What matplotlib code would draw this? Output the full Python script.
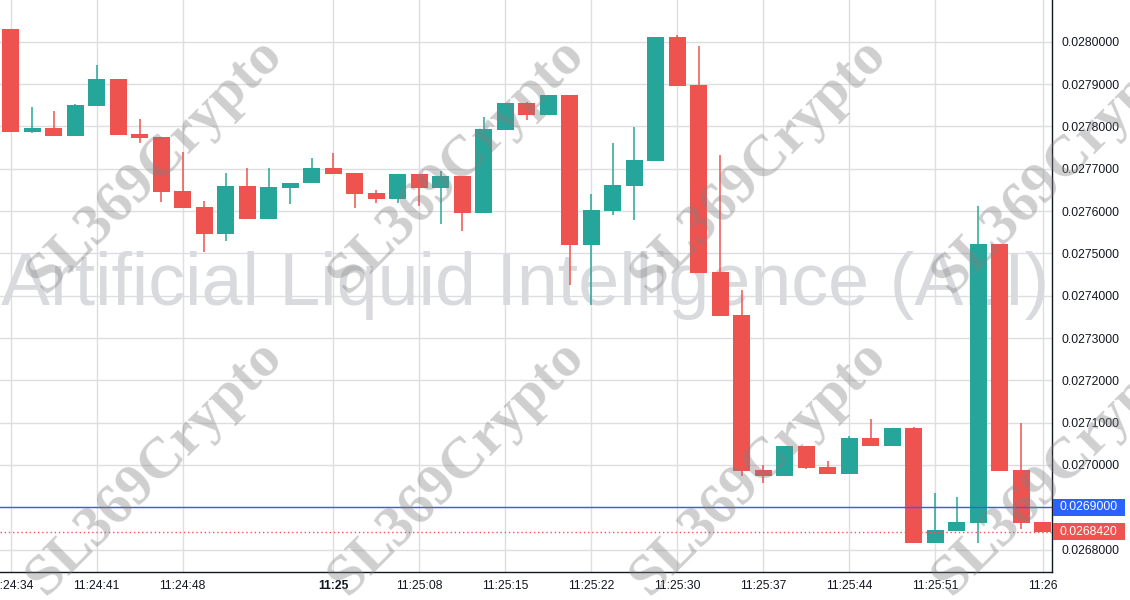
# ---------------------------------------------------------------------------- #
#                                     SETUP                                    #
# ---------------------------------------------------------------------------- #

import matplotlib
matplotlib.use('Agg')
import matplotlib.pyplot as plt
import matplotlib.transforms as mtransforms
from matplotlib.patches import Rectangle

opens = [0.028030, 0.027787, 0.027796, 0.027778, 0.027849, 0.027912, 0.027782,
         0.027775, 0.027647, 0.027609, 0.027546, 0.027659, 0.027582, 0.027655,
         0.027665, 0.027702, 0.027690, 0.027643, 0.027629, 0.027687, 0.027655,
         0.027683, 0.027596, 0.027792, 0.027855, 0.027827, 0.027874, 0.027520,
         0.027600, 0.027659, 0.027718, 0.028011, 0.027898, 0.027456, 0.027354,
         0.026989, 0.026974, 0.027046, 0.026995, 0.026979, 0.027064, 0.027046,
         0.027087, 0.026816, 0.026844, 0.026863, 0.027523, 0.026988, 0.026865]
highs = [0.028030, 0.027846, 0.027836, 0.027853, 0.027945, 0.027912, 0.027817,
         0.027775, 0.027739, 0.027624, 0.027690, 0.027702, 0.027702, 0.027666,
         0.027725, 0.027737, 0.027690, 0.027650, 0.027687, 0.027687, 0.027695,
         0.027683, 0.027822, 0.027855, 0.027858, 0.027874, 0.027874, 0.027640,
         0.027761, 0.027799, 0.028011, 0.028016, 0.027990, 0.027732, 0.027413,
         0.027000, 0.027046, 0.027046, 0.027009, 0.027069, 0.027109, 0.027087,
         0.027089, 0.026934, 0.026925, 0.027612, 0.027523, 0.027099, 0.026865]
lows = [0.027787, 0.027785, 0.027778, 0.027778, 0.027849, 0.027780, 0.027761,
        0.027622, 0.027608, 0.027502, 0.027530, 0.027582, 0.027582, 0.027617,
        0.027665, 0.027688, 0.027608, 0.027620, 0.027620, 0.027613, 0.027570,
        0.027553, 0.027596, 0.027792, 0.027816, 0.027827, 0.027425, 0.027378,
        0.027591, 0.027579, 0.027718, 0.027895, 0.027454, 0.027353, 0.026974,
        0.026957, 0.026974, 0.026991, 0.026979, 0.026979, 0.027046, 0.027046,
        0.026816, 0.026816, 0.026844, 0.026816, 0.026986, 0.026849, 0.026842]
closes = [0.027787, 0.027796, 0.027778, 0.027850, 0.027912, 0.027780, 0.027773,
          0.027646, 0.027608, 0.027546, 0.027659, 0.027582, 0.027657, 0.027666,
          0.027702, 0.027688, 0.027641, 0.027629, 0.027687, 0.027655, 0.027683,
          0.027596, 0.027794, 0.027855, 0.027827, 0.027874, 0.027520, 0.027602,
          0.027661, 0.027721, 0.028011, 0.027895, 0.027454, 0.027353, 0.026986,
          0.026974, 0.027046, 0.026994, 0.026979, 0.027064, 0.027046, 0.027087,
          0.026816, 0.026846, 0.026865, 0.027523, 0.026986, 0.026863, 0.026842]

time_pos = [0, 4, 8, 15, 19, 23, 27, 31, 35, 39, 43, 48]
time_labels = ['11:24:34', '11:24:41', '11:24:48', '11:25', '11:25:08', '11:25:15',
               '11:25:22', '11:25:30', '11:25:37', '11:25:44', '11:25:51', '11:26']
price_ticks = [0.0268 + 0.0001 * k for k in range(13)]

mark_price = 0.0269
last_price = 0.026842

UP = '#26a69a'
DOWN = '#ef5350'
GRID = '#dcdee2'
TEXT = '#131722'
FONT = 'Liberation Sans'


# ---------------------------------------------------------------------------- #
#                                    SCRIPT                                    #
# ---------------------------------------------------------------------------- #

fig = plt.figure(figsize=(11.3, 6), dpi=100)
ax = fig.add_axes([0, 28 / 600, 1052 / 1130, 572 / 600])

idx = list(range(len(opens)))
colors = [UP if c >= o else DOWN for o, c in zip(opens, closes)]
bottoms = [min(o, c) for o, c in zip(opens, closes)]
heights = [max(abs(c - o), 0.0000015) for o, c in zip(opens, closes)]

ax.vlines(idx, lows, highs, colors=colors, linewidth=1.1, zorder=2)
ax.bar(idx, heights, bottom=bottoms, width=0.79, color=colors, linewidth=0, zorder=3)

# big pair name behind the candles
ax.text(0.499, 1 - 305 / 572, 'Artificial Liquid Intelligence (ALI)',
        transform=ax.transAxes, ha='center', va='baseline', fontsize=53,
        family=FONT, color='#d9dadd', zorder=1)

ax.axhline(mark_price, color='#2962ff', linewidth=1, zorder=4)
ax.axhline(last_price, color=DOWN, linewidth=1, linestyle=(0, (1, 2)), zorder=4)

ax.set_xlim(-0.498, 48.43)
ax.set_ylim(0.0267472, 0.0280985)

ax.set_xticks(time_pos)
ax.set_xticklabels(time_labels, family=FONT)
for lab in ax.get_xticklabels():
    if lab.get_text() == '11:25':
        lab.set_fontweight('bold')
ax.set_yticks(price_ticks)
ax.set_yticklabels(['%.7f' % p for p in price_ticks], family=FONT)
ax.yaxis.tick_right()
ax.tick_params(axis='both', length=0, labelsize=8.7, colors=TEXT)
ax.tick_params(axis='x', pad=6)
ax.tick_params(axis='y', pad=7)
ax.grid(True, color=GRID, linewidth=1)
ax.set_axisbelow(True)

for side in ['top', 'left']:
    ax.spines[side].set_visible(False)
for side in ['right', 'bottom']:
    ax.spines[side].set_color(TEXT)
    ax.spines[side].set_linewidth(1)

# price boxes on the scale
trans = mtransforms.blended_transform_factory(ax.transAxes, ax.transData)
box_h = 0.0000405
for val, col in [(mark_price, '#2962ff'), (last_price, DOWN)]:
    ax.add_patch(Rectangle((1.0008, val - box_h / 2), 72 / 1052, box_h,
                           transform=trans, facecolor=col, edgecolor='none',
                           clip_on=False, zorder=6))
    ax.text(1060 / 1052, val, '%.7f' % val, transform=trans, ha='left',
            va='center', fontsize=8.7, family=FONT, color='white',
            clip_on=False, zorder=7)

# diagonal watermark over the whole figure
for cy in [165, 467]:
    for cx in [155, 457, 759, 1061]:
        fig.text(cx / 1130, 1 - cy / 600, 'SL369Crypto', rotation=45,
                 ha='center', va='center', rotation_mode='anchor',
                 fontsize=42, family='Liberation Serif', fontweight='bold',
                 color='#808080', alpha=0.38, zorder=10)

plt.savefig('out.png', dpi=100)
